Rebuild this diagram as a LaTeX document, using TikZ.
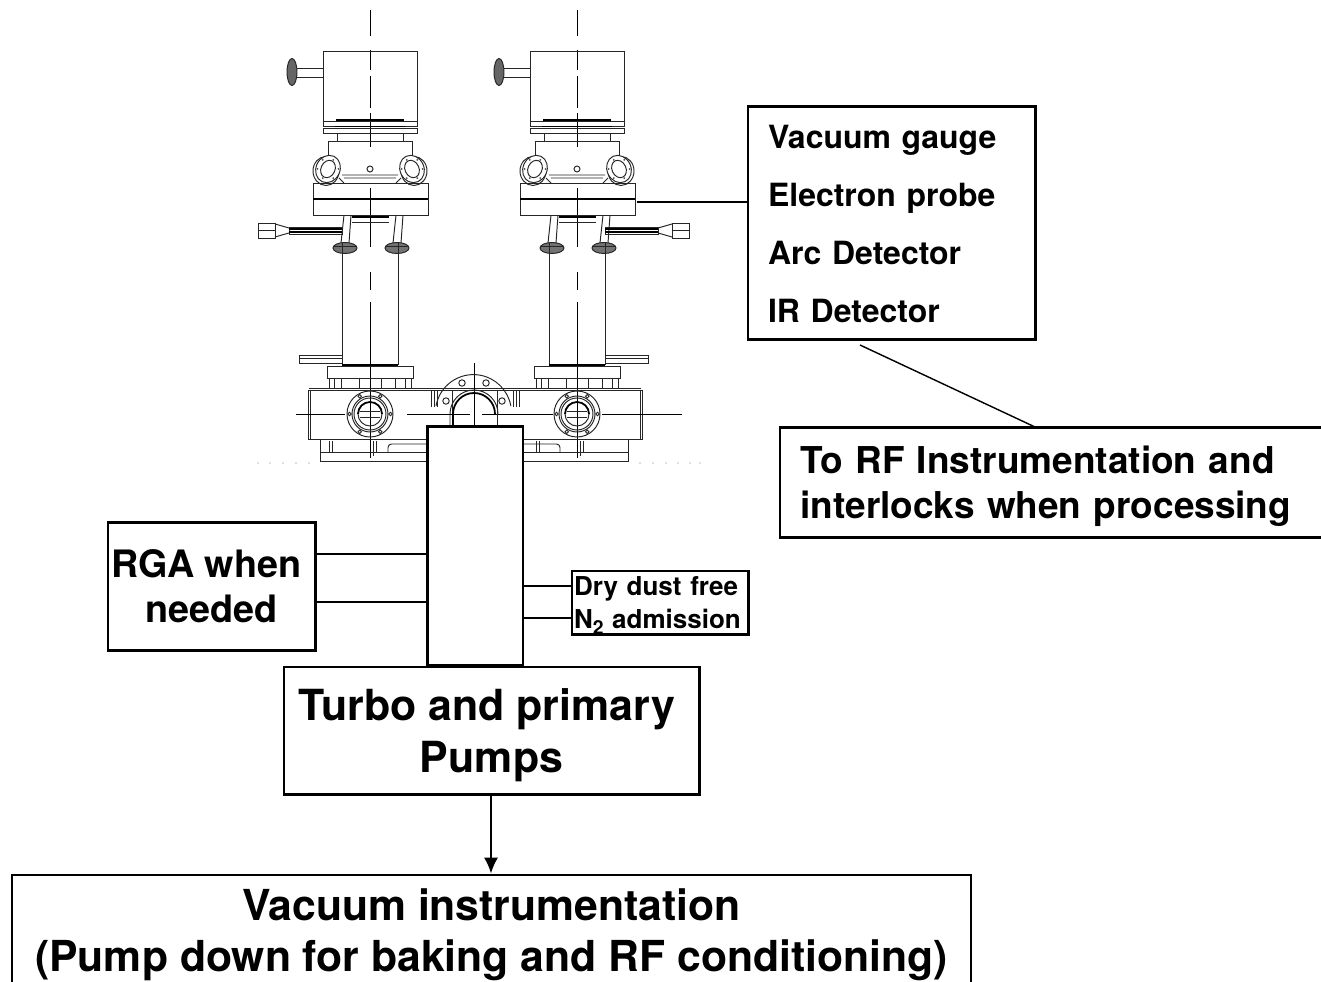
\documentclass[tikz,border=0pt]{standalone}
\usepackage{fontspec}
\setmainfont{TeX Gyre Heros}
\usetikzlibrary{positioning, arrows.meta, calc}
\tikzset{
  labelbox/.style={rectangle, draw=black, line width=1.2pt, fill=white, inner sep=0pt, font=\bfseries},
  pipebox/.style={rectangle, draw=black, line width=1.7pt, fill=white, inner sep=0pt},
  link/.style={draw=black, line width=1.1pt},
  arrow/.style={link, -{Latex[length=9pt,width=8pt]}},
  part/.style={draw=black!85, line width=0.55pt},
  heavy/.style={draw=black, line width=1pt},
  centre/.style={draw=black, line width=0.5pt}
}
\begin{document}
\begin{tikzpicture}[x=0.02cm, y=-0.02cm]
  \clip (0,0) rectangle (1321,982);
  \useasboundingbox (0,0) rectangle (1321,982);

  % Dos columnas iguales
  \foreach \axis/\side in {370/-1, 577/1} {
    \begin{scope}[shift={(\axis,0)}]
      % Eje
      \foreach \ya/\yb in {10/36, 50/70, 76/108, 113/147, 188/247, 272/290, 302/458}
        \draw[centre] (0,\ya) -- (0,\yb);
      % Cuerpo superior
      \draw[part] (-47,51) rectangle (47,121);
      \draw[part] (-47,121) rectangle (47,126);
      \draw[part] (-47,128) rectangle (47,133);
      \draw[heavy] (-34,120) -- (34,120) (-35,126.5) -- (35,126.5);
      \draw[part] (-33,133) rectangle (33,141);
      \draw[part] (-42,157) -- (-42,141) -- (42,141) -- (42,157);
      % Mando lateral
      \draw[part] (-47,68) -- (-74,68) (-47,77) -- (-74,77);
      \draw[part, fill=black!60] (-78,72) ellipse [x radius=5, y radius=13.5];
      % Ventanas
      \foreach \sx/\tilt in {-42/-25, 42/25} {
        \draw[part, fill=white] (\sx+\sx/21,171) ellipse [x radius=13, y radius=14.5];
        \draw[part, fill=white, rotate around={\tilt:(\sx,169)}] (\sx,169) ellipse [x radius=12, y radius=14];
        \draw[part, rotate around={\tilt:(\sx,169)}] (\sx,169) ellipse [x radius=7, y radius=9];
        \foreach \ang in {0, 60, ..., 300}
          \fill[black!70] ($(\sx,169)+(\ang:10.5)$) circle [radius=1];
      }
      \draw[part] (0,169) circle [radius=3];
      \draw[part] (-28,175) -- (28,175) (-26,178) -- (26,178) (-31,178) -- (-26,183) (31,178) -- (26,183);
      % Brida
      \draw[part] (-57,183) rectangle (58,215);
      \draw[heavy] (-57,199) -- (58,199);
      % Bajo la brida
      \draw[heavy] (-18,217) -- (19,217);
      \draw[part] (-18,222) -- (19,222);
      \foreach \sx in {-25, 27} {
        \draw[part] (\sx-1,215) -- (\sx-4,243) (\sx+6,215) -- (\sx+4,243);
        \draw[part, fill=black!55] (\sx,248) ellipse [x radius=12, y radius=5.5];
        \draw[part] (\sx-11,246) -- (\sx+11,246);
      }
      % Tubo
      \draw[part] (-28,243) -- (-28,365) (28,243) -- (28,365);
      \draw[heavy] (-28,365) -- (28,365);
      % Salidas laterales
      \begin{scope}[xscale=\side]
        \draw[part] (28,355) rectangle (71,363);
        \draw[part] (28,358) -- (71,358);
        \draw[part] (28,227) rectangle (81,234);
        \draw[heavy] (28,229) -- (81,229) (28,232) -- (81,232);
        \draw[part] (81,228) -- (95,224) (81,233) -- (95,237);
        \draw[part] (95,223) rectangle (112,238);
        \draw[part] (95,230.5) -- (112,230.5);
      \end{scope}
      % Brida inferior
      \draw[part] (-43,366) rectangle (43,378);
      \foreach \sx in {-41, -36, -29, 25, 35, 41}
        \draw[part] (\sx,378) -- (\sx,388);
      \draw[part] (-11,378) -- (-11,388) (11,378) -- (11,388);
      % Puerto circular
      \foreach \rd in {23, 18, 16, 12}
        \draw[part] (0,414) circle [radius=\rd];
      \foreach \ang in {0, 60, ..., 300}
        \draw[part] ($(0,414)+(\ang:20.5)$) circle [radius=1.8];
      \draw[heavy] (-12,414) arc [start angle=180, end angle=360, radius=12];
      \draw[part] (-10,411) -- (10,411) (-10,417) -- (10,417);
      % Soporte
      \draw[part] (-41,441) -- (-41,452) (-38,441) -- (-38,452) (3,441) -- (3,456) (6,441) -- (6,452);
    \end{scope}
  }

  % Camara
  \draw[part] (308,390) rectangle (642,439);
  \draw[part] (309,388) -- (641,388);
  \draw[part] (310,390) -- (310,439) (640,390) -- (640,439);
  \draw[part] (320,440) -- (320,461) -- (628,461) -- (628,440);
  \draw[part] (320,452) -- (628,452);
  \draw[part, rounded corners=2pt] (388,452) -- (388,444) -- (560,444) -- (560,452);
  \foreach \xa/\xb in {296/345, 407/470, 482/553, 602/682}
    \draw[centre] (\xa,414) -- (\xb,414);

  % Puerto central
  \draw[centre] (474,363) -- (474,425);
  \draw[part] (436,406) arc [start angle=190, end angle=350, radius=38];
  \draw[part] (452,390) -- (452,425) (497,390) -- (497,425);
  \draw[heavy] (453,425) -- (453,414) arc [start angle=180, end angle=360, radius=21];
  \draw[part] (450,425) -- (450,414) arc [start angle=180, end angle=360, radius=24];
  \foreach \bx/\by in {462/383, 486/383, 446/401, 502/401}
    \draw[part] (\bx,\by) circle [radius=3.2];
  \foreach \xa in {431, 434, 437, 513, 516, 519}
    \draw[part] (\xa,391) -- (\xa,407);

  % Puntos claros
  \foreach \px in {258, 270, 283, 296, 309, 640, 653, 666, 678, 690, 700}
    \fill[black!25] (\px,463) circle [radius=0.8];

  % Nodos
  \node (pipe) [pipebox, minimum width=1.92cm, minimum height=4.8cm] at (475,546) {};
  \node (gauges) [labelbox, anchor=north west, minimum width=5.76cm, minimum height=4.66cm, align=left, text width=4.94cm, font=\bfseries\fontsize{18.2}{33}\selectfont] at (746.5,105.5) {\rule{0pt}{14pt}Vacuum gauge\\Electron probe\\Arc Detector\\IR Detector};
  \node (rf) [labelbox, anchor=north west, minimum width=11.4cm, minimum height=2.2cm, align=left, text width=10.56cm, font=\bfseries\fontsize{21.05}{25.5}\selectfont] at (778.5,426.5) {\rule{0pt}{20pt}To RF Instrumentation and\\interlocks when processing};
  \node (rga) [labelbox, anchor=north west, minimum width=4.16cm, minimum height=2.56cm, align=center, font=\bfseries\fontsize{21.5}{25.5}\selectfont] at (106.5,521.5) {RGA when\kern 6pt\\needed};
  \node (gas) [labelbox, anchor=north west, minimum width=3.54cm, minimum height=1.28cm, align=left, text width=3.44cm, font=\bfseries\fontsize{14.8}{18.5}\selectfont] at (570.5,569.5) {Dry dust free\\N\smash{\raisebox{-3.5pt}{\fontsize{11}{11}\selectfont 2}} admission};
  \node (pumps) [labelbox, anchor=north west, minimum width=8.32cm, minimum height=2.56cm, align=center, font=\bfseries\fontsize{24.4}{29.5}\selectfont] at (282.5,665.5) {\rule{0pt}{23.5pt}Turbo and primary\kern 5.5pt\\Pumps};
  \node (vacuum) [labelbox, anchor=north west, minimum width=19.2cm, minimum height=2.4cm, align=center, font=\bfseries\fontsize{24.3}{29}\selectfont] at (10.5,873.5) {Vacuum instrumentation\\(Pump down for baking and RF conditioning)};

  \coordinate (flange) at (637,202);
  \coordinate (gaugeline) at (860,345);
  \coordinate (rfend) at (1035,427);

  % Conexiones
  \draw[link] (flange) -- (flange -| gauges.west);
  \draw[link, line width=0.8pt] (gaugeline) -- (rfend);
  \draw[link] (rga.east |- 0,554) -- (pipe.west |- 0,554);
  \draw[link] (rga.east |- 0,602) -- (pipe.west |- 0,602);
  \draw[link] (pipe.east |- 0,586) -- (gas.west |- 0,586);
  \draw[link] (pipe.east |- 0,618) -- (gas.west |- 0,618);
  \draw[arrow] (pumps.south -| 491,0) -- (vacuum.north -| 491,0);
\end{tikzpicture}
\end{document}
